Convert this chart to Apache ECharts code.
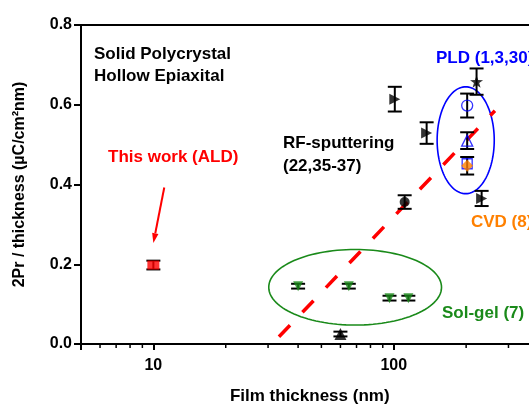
<!DOCTYPE html>
<html>
<head>
<meta charset="utf-8">
<script src="https://cdn.jsdelivr.net/npm/echarts@6/dist/echarts.min.js"></script>
<style>
  html, body { margin: 0; padding: 0; background: #fff; }
  #chart { width: 529px; height: 407px; }
</style>
</head>
<body>
<div id="chart"></div>
<script>
// ---- Data: 2Pr / thickness versus film thickness ----
// This work (ALD)
const aldThickness = [10];
const aldPr = [0.198];
const aldErr = [0.011];

// Sol-gel (7)
const solgelThickness = [40, 65, 96, 115];
const solgelPr = [0.145, 0.145, 0.115, 0.115];
const solgelErr = [0.006, 0.006, 0.006, 0.006];

// RF-sputtering (22,35-37)
const rfCircleThickness = [111];
const rfCirclePr = [0.356];
const rfCircleErr = [0.017];
const rfRightThickness = [101, 137, 232];
const rfRightPr = [0.614, 0.529, 0.365];
const rfRightErr = [0.031, 0.027, 0.019];
const rfUpThickness = [60];
const rfUpPr = [0.025];
const rfUpErr = [0.006];

// PLD (1,3,30)
const pldStarThickness = [221];
const pldStarPr = [0.658];
const pldStarErr = [0.033];
const pldCircleThickness = [202];
const pldCirclePr = [0.598];
const pldCircleErr = [0.030];
const pldTriThickness = [202];
const pldTriPr = [0.510];
const pldTriErr = [0.021];
const pldSquareThickness = [202];
const pldSquarePr = [0.452];

// CVD (8)
const cvdThickness = [202];
const cvdPr = [0.447];
const cvdErr = [0.022];

// Trend line (thickness, value at both ends)
const trendThickness = [33.3, 263.5];
const trendPr = [0.018, 0.585];

// Grouping ellipses: [thickness from, thickness to, value from, value to]
const solgelRegion = [30.2, 158, 0.0475, 0.237];
const pldRegion = [151.5, 261.8, 0.377, 0.645];

// Arrow pointing at this work: [from thickness, from value, to thickness, to value]
const aldArrow = [11.1, 0.3925, 10, 0.253];

// Axis settings
const xMinorTicks = [6, 7, 8, 9, 20, 30, 40, 50, 60, 70, 80, 90, 200, 300];

const FONT = '"Liberation Sans", Arial, Helvetica, sans-serif';
const RED = '#ff0000', BLUE = '#0000ff', GREEN = '#1a8a1a', ORANGE = '#ff8000';
const NOTE_FONT = 'bold 17px ' + FONT;

const pairs = (xs, ys) => xs.map((x, i) => [x, ys[i]]);
const triples = (xs, ys, es) => xs.map((x, i) => [x, ys[i], es[i]]);

function errorBars(xs, ys, es) {
  return {
    type: 'custom',
    silent: true,
    z: 4,
    data: triples(xs, ys, es),
    encode: { x: 0, y: 1 },
    renderItem: function (params, api) {
      const x = api.value(0), y = api.value(1), e = api.value(2);
      const top = api.coord([x, y + e]);
      const bot = api.coord([x, y - e]);
      const hw = 7;
      const st = { stroke: '#000', lineWidth: 2 };
      return {
        type: 'group',
        children: [
          { type: 'line', shape: { x1: top[0], y1: top[1], x2: bot[0], y2: bot[1] }, style: st },
          { type: 'line', shape: { x1: top[0] - hw, y1: top[1], x2: top[0] + hw, y2: top[1] }, style: st },
          { type: 'line', shape: { x1: bot[0] - hw, y1: bot[1], x2: bot[0] + hw, y2: bot[1] }, style: st }
        ]
      };
    }
  };
}

function ellipse(region, color) {
  return {
    type: 'custom',
    silent: true,
    z: 1,
    data: [region],
    renderItem: function (params, api) {
      const p0 = api.coord([api.value(0), api.value(2)]);
      const p1 = api.coord([api.value(1), api.value(3)]);
      const cx = (p0[0] + p1[0]) / 2, cy = (p0[1] + p1[1]) / 2;
      const rx = Math.abs(p1[0] - p0[0]) / 2, ry = Math.abs(p1[1] - p0[1]) / 2;
      const pts = [];
      for (let k = 0; k < 120; k++) {
        const a = k / 120 * Math.PI * 2;
        pts.push([cx + rx * Math.cos(a), cy + ry * Math.sin(a)]);
      }
      return { type: 'polygon', shape: { points: pts }, style: { fill: 'none', stroke: color, lineWidth: 1.6 } };
    }
  };
}

function scatter(xs, ys, symbol, size, itemStyle, extra) {
  return Object.assign({
    type: 'scatter',
    z: 5,
    silent: true,
    data: pairs(xs, ys),
    symbol: symbol,
    symbolSize: size,
    itemStyle: itemStyle
  }, extra || {});
}

const STAR = 'path://M0,-10L2.35,-3.24L9.51,-3.09L3.8,1.24L5.88,8.09L0,4L-5.88,8.09L-3.8,1.24L-9.51,-3.09L-2.35,-3.24Z';
const hollow = (c) => ({ color: 'rgba(0,0,0,0)', borderColor: c, borderWidth: 1.3 });

const chart = echarts.init(document.getElementById('chart'), null, { renderer: 'canvas' });

chart.setOption({
  animation: false,
  backgroundColor: '#fff',
  grid: {
    left: 81, top: 25, right: -9.5, bottom: 63,
    show: true, borderColor: '#000', borderWidth: 2,
    containLabel: false, outerBoundsMode: 'none'
  },
  xAxis: {
    type: 'log',
    logBase: 10,
    min: 5,
    max: 400,
    name: 'Film thickness (nm)',
    nameLocation: 'middle',
    nameGap: 44,
    nameTextStyle: { fontFamily: FONT, fontWeight: 'bold', fontSize: 17, color: '#000' },
    axisLine: { lineStyle: { color: '#000', width: 2 } },
    axisTick: { length: 6, lineStyle: { color: '#000', width: 2 } },
    axisLabel: {
      margin: 14,
      fontFamily: FONT, fontWeight: 'bold', fontSize: 16, color: '#000',
      formatter: function (v) {
        const l = Math.log10(v);
        return Math.abs(l - Math.round(l)) < 1e-6 ? String(Math.round(v)) : '';
      }
    },
    splitLine: { show: false },
    minorTick: { show: false }
  },
  yAxis: {
    type: 'value',
    min: 0,
    max: 0.8,
    interval: 0.2,
    name: '2Pr / thickness (\u00b5C/cm\u00b2nm)',
    nameLocation: 'middle',
    nameGap: 53,
    nameTextStyle: { fontFamily: FONT, fontWeight: 'bold', fontSize: 16, color: '#000' },
    axisLine: { show: true, lineStyle: { color: '#000', width: 2 } },
    axisTick: { show: true, length: 7, lineStyle: { color: '#000', width: 2 } },
    axisLabel: {
      margin: 9,
      fontFamily: FONT, fontWeight: 'bold', fontSize: 16, color: '#000',
      formatter: (v) => v.toFixed(1)
    },
    splitLine: { show: false }
  },
  graphic: [
    { type: 'text', x: 94, y: 54, style: { text: 'Solid Polycrystal', font: NOTE_FONT, fill: '#000', verticalAlign: 'middle' } },
    { type: 'text', x: 94, y: 76, style: { text: 'Hollow Epiaxital', font: NOTE_FONT, fill: '#000', verticalAlign: 'middle' } },
    { type: 'text', x: 108, y: 157, style: { text: 'This work (ALD)', font: NOTE_FONT, fill: RED, verticalAlign: 'middle' } },
    { type: 'text', x: 283, y: 143, style: { text: 'RF-sputtering', font: NOTE_FONT, fill: '#000', verticalAlign: 'middle' } },
    { type: 'text', x: 283, y: 166, style: { text: '(22,35-37)', font: NOTE_FONT, fill: '#000', verticalAlign: 'middle' } },
    { type: 'text', x: 436, y: 58, style: { text: 'PLD (1,3,30)', font: NOTE_FONT, fill: BLUE, verticalAlign: 'middle' } },
    { type: 'text', x: 471, y: 222, style: { text: 'CVD (8)', font: NOTE_FONT, fill: ORANGE, verticalAlign: 'middle' } },
    { type: 'text', x: 442, y: 313, style: { text: 'Sol-gel (7)', font: NOTE_FONT, fill: GREEN, verticalAlign: 'middle' } }
  ],
  series: [
    // minor ticks on the log thickness axis
    {
      type: 'custom',
      silent: true,
      z: 6,
      data: xMinorTicks.map((t) => [t, 0]),
      renderItem: function (params, api) {
        const p = api.coord([api.value(0), 0]);
        return { type: 'line', shape: { x1: p[0], y1: p[1], x2: p[0], y2: p[1] + 4 }, style: { stroke: '#000', lineWidth: 1.5 } };
      }
    },
    ellipse(solgelRegion, GREEN),
    ellipse(pldRegion, BLUE),
    {
      type: 'line',
      silent: true,
      z: 3,
      data: pairs(trendThickness, trendPr),
      symbol: 'none',
      lineStyle: { color: RED, width: 3.5, type: [16, 18] }
    },
    {
      type: 'custom',
      silent: true,
      z: 3,
      data: [aldArrow],
      renderItem: function (params, api) {
        const a = api.coord([api.value(0), api.value(1)]);
        const b = api.coord([api.value(2), api.value(3)]);
        const ang = Math.atan2(b[1] - a[1], b[0] - a[0]);
        const L = 10, W = 3.2;
        const bx = b[0] - L * Math.cos(ang), by = b[1] - L * Math.sin(ang);
        const sx = Math.sin(ang), cx = Math.cos(ang);
        return {
          type: 'group',
          children: [
            { type: 'line', shape: { x1: a[0], y1: a[1], x2: bx, y2: by }, style: { stroke: RED, lineWidth: 2 } },
            { type: 'polygon', shape: { points: [[b[0], b[1]], [bx + W * sx, by - W * cx], [bx - W * sx, by + W * cx]] }, style: { fill: RED } }
          ]
        };
      }
    },
    errorBars(aldThickness, aldPr, aldErr),
    errorBars(solgelThickness, solgelPr, solgelErr),
    errorBars(rfCircleThickness, rfCirclePr, rfCircleErr),
    errorBars(rfRightThickness, rfRightPr, rfRightErr),
    errorBars(rfUpThickness, rfUpPr, rfUpErr),
    errorBars(pldStarThickness, pldStarPr, pldStarErr),
    errorBars(pldCircleThickness, pldCirclePr, pldCircleErr),
    errorBars(pldTriThickness, pldTriPr, pldTriErr),
    errorBars(cvdThickness, cvdPr, cvdErr),
    scatter(aldThickness, aldPr, 'rect', [12, 9], { color: RED }),
    scatter(solgelThickness, solgelPr, 'triangle', 10, { color: GREEN }, { symbolRotate: 180 }),
    scatter(rfCircleThickness, rfCirclePr, 'circle', 10, { color: '#000' }),
    scatter(rfRightThickness, rfRightPr, 'triangle', 11, { color: '#000' }, { symbolRotate: -90 }),
    scatter(rfUpThickness, rfUpPr, 'triangle', 12, { color: '#000' }),
    scatter(pldStarThickness, pldStarPr, STAR, 13, { color: '#000' }, { symbolKeepAspect: true }),
    scatter(pldCircleThickness, pldCirclePr, 'circle', 11, hollow(BLUE)),
    scatter(pldTriThickness, pldTriPr, 'triangle', 11, hollow(BLUE)),
    scatter(pldSquareThickness, pldSquarePr, 'rect', 10, hollow(BLUE)),
    scatter(cvdThickness, cvdPr, 'diamond', 12, { color: ORANGE }, { z: 6 })
  ]
});
</script>
</body>
</html>
